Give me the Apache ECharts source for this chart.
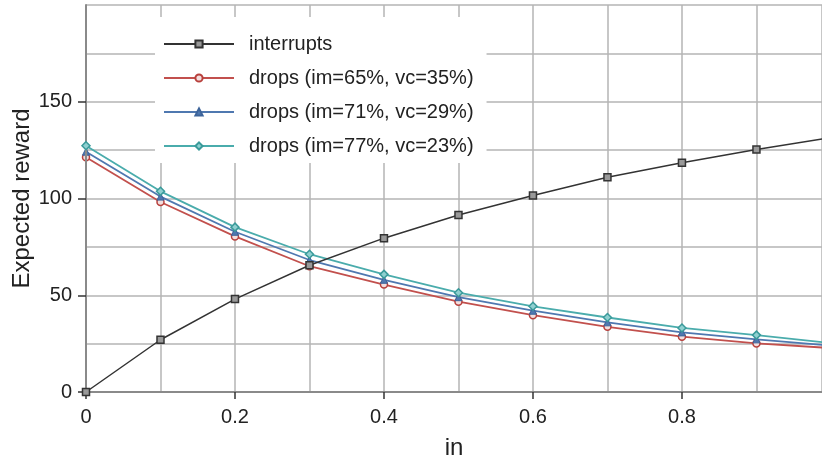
<!DOCTYPE html>
<html>
<head>
<meta charset="utf-8">
<script src="https://cdn.jsdelivr.net/npm/echarts@6/dist/echarts.min.js"></script>
<style>html,body{margin:0;padding:0;background:#fff}#c{width:822px;height:466px}</style>
</head>
<body>
<div id="c"></div>
<script>
const xValues = [0, 0.1, 0.2, 0.3, 0.4, 0.5, 0.6, 0.7, 0.8, 0.9, 1.0];
const interrupts = [0, 27, 48, 65.5, 79.5, 91.5, 101.5, 111, 118.5, 125.3, 131.5];
const drops65 = [121.3, 98.2, 80.4, 65, 55.5, 46.7, 39.7, 33.7, 28.6, 25.1, 22.7];
const drops71 = [124.2, 101, 82.8, 68.2, 58, 49, 42, 36, 30.8, 27.2, 24];
const drops77 = [127.3, 103.7, 85.2, 71.2, 60.8, 51.3, 44.3, 38.5, 33.1, 29.4, 25.3];
const seriesNames = ['interrupts', 'drops (im=65%, vc=35%)', 'drops (im=71%, vc=29%)', 'drops (im=77%, vc=23%)'];
const xTickLabels = [0, 0.2, 0.4, 0.6, 0.8];
const yTickLabels = [0, 50, 100, 150];

const font = 'Liberation Sans, Arial, Helvetica, sans-serif';
function pairs(ys) { return xValues.map((x, i) => [x, ys[i]]); }

const chart = echarts.init(document.getElementById('c'), null, {renderer: 'canvas'});
const gridLine = {show: true, lineStyle: {color: '#b4b4b4', width: 1.5}};
const hidden = {axisLine: {show: false}, axisTick: {show: false}, axisLabel: {show: false}};
chart.setOption({
  animation: false,
  backgroundColor: '#fff',
  grid: {left: 86, right: 0, top: 5, bottom: 74, containLabel: false, outerBoundsMode: 'none'},
  xAxis: [{
    type: 'value', min: 0, max: 0.988, interval: 0.1,
    name: 'in', nameLocation: 'middle', nameGap: 44, nameMoveOverlap: false,
    nameTextStyle: {fontSize: 24, color: '#222', fontFamily: font},
    axisLine: {show: true, onZero: false, lineStyle: {color: '#8a8a8a', width: 2}},
    axisTick: {show: true, length: 7, customValues: xTickLabels, lineStyle: {color: '#333', width: 1.5}},
    axisLabel: {fontSize: 20, color: '#222', fontFamily: font, margin: 15,
      customValues: xTickLabels, formatter: v => String(Math.round(v * 10) / 10)},
    splitLine: {show: false}, z: 5
  }, Object.assign({
    type: 'value', min: 0, max: 0.988, interval: 0.1, position: 'bottom',
    splitLine: gridLine, z: 0
  }, hidden)],
  yAxis: [{
    type: 'value', min: 0, max: 200, interval: 25,
    name: 'Expected reward', nameLocation: 'middle', nameGap: 52, nameRotate: 90, nameMoveOverlap: false,
    nameTextStyle: {fontSize: 24, color: '#222', fontFamily: font},
    axisLine: {show: true, lineStyle: {color: '#8a8a8a', width: 2}},
    axisTick: {show: true, length: 8, customValues: yTickLabels, lineStyle: {color: '#333', width: 1.5}},
    axisLabel: {fontSize: 20, color: '#222', fontFamily: font, margin: 14,
      customValues: yTickLabels, formatter: v => String(v)},
    splitLine: {show: false}, z: 5
  }, Object.assign({
    type: 'value', min: 0, max: 200, interval: 25, position: 'left',
    splitLine: gridLine, z: 0
  }, hidden)],
  legend: {
    orient: 'vertical', left: 155, top: 17,
    padding: [17, 13, 7, 8],
    itemGap: 14, itemWidth: 70, itemHeight: 9,
    backgroundColor: '#fff',
    textStyle: {fontSize: 20, color: '#222', fontFamily: font, padding: [0, 0, 0, 10]},
    data: seriesNames
  },
  series: [
    {name: seriesNames[1], type: 'line', data: pairs(drops65), symbol: 'circle', symbolSize: 7,
      itemStyle: {color: '#f3dede', borderColor: '#b8403c', borderWidth: 1.5},
      lineStyle: {color: '#c2504d', width: 1.8}, z: 3},
    {name: seriesNames[2], type: 'line', data: pairs(drops71), symbol: 'triangle', symbolSize: 7,
      itemStyle: {color: '#4f78b0', borderColor: '#3d649a', borderWidth: 1},
      lineStyle: {color: '#4f78b0', width: 1.8}, z: 4},
    {name: seriesNames[3], type: 'line', data: pairs(drops77), symbol: 'diamond', symbolSize: 8,
      itemStyle: {color: '#8fd0d0', borderColor: '#3a9a9a', borderWidth: 1.5},
      lineStyle: {color: '#4aacac', width: 1.8}, z: 5},
    {name: seriesNames[0], type: 'line', data: pairs(interrupts), symbol: 'rect', symbolSize: 7,
      itemStyle: {color: '#999', borderColor: '#333', borderWidth: 1.5},
      lineStyle: {color: '#333', width: 1.5}, z: 6}
  ]
});
</script>
</body>
</html>
